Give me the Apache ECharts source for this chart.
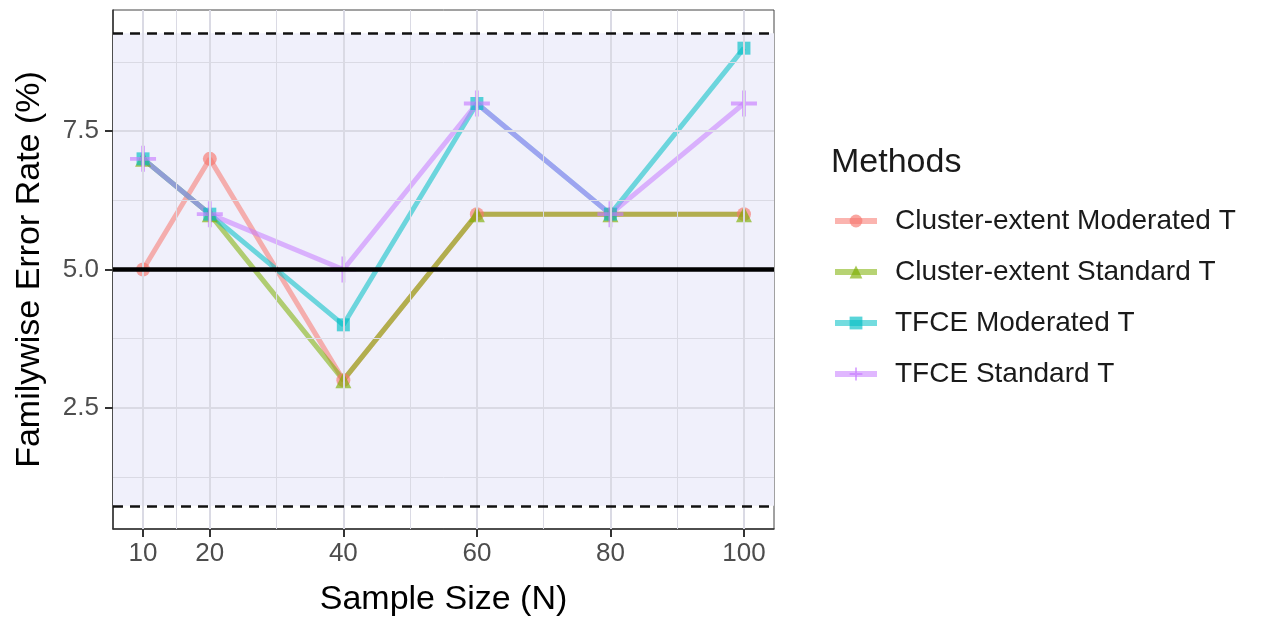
<!DOCTYPE html>
<html><head><meta charset="utf-8">
<script src="https://cdn.jsdelivr.net/npm/echarts@6/dist/echarts.min.js"></script>
<style>html,body{margin:0;padding:0;background:#fff}#c{width:1261px;height:620px}</style>
</head><body><div id="c"></div>
<script>
const sampleSizes = [10, 20, 40, 60, 80, 100];
const methods = ['Cluster-extent Moderated T', 'Cluster-extent Standard T', 'TFCE Moderated T', 'TFCE Standard T'];
const clusterModerated = [5, 7, 3, 6, 6, 6];
const clusterStandard = [7, 6, 3, 6, 6, 6];
const tfceModerated = [7, 6, 4, 8, 6, 9];
const tfceStandard = [7, 6, 5, 8, 6, 8];
const xTicks = [10, 20, 40, 60, 80, 100];
const xMinor = [15, 30, 50, 70, 90];
const yTicks = [2.5, 5.0, 7.5];
const yMinor = [1.25, 3.75, 6.25, 8.75];
const nominalRate = 5;
const ciLower = 0.73;
const ciUpper = 9.27;

const colors = ['#F8766D', '#7CAE00', '#00BFC4', '#C77CFF'];
const plusPath = 'path://M-1.5,-10L1.5,-10L1.5,-1.5L10,-1.5L10,1.5L1.5,1.5L1.5,10L-1.5,10L-1.5,1.5L-10,1.5L-10,-1.5L-1.5,-1.5Z';
const symbols = ['circle', 'triangle', 'rect', plusPath];
const symbolSizes = [14, 16, 13, 26];
const seriesValues = [clusterModerated, clusterStandard, tfceModerated, tfceStandard];

const font = 'Liberation Sans, Arial, sans-serif';
const chart = echarts.init(document.getElementById('c'), null, {renderer: 'canvas'});

const dataSeries = methods.map((m, i) => ({
  name: m, type: 'line', z: 3,
  data: sampleSizes.map((x, j) => [x, seriesValues[i][j]]),
  symbol: symbols[i], symbolSize: symbolSizes[i],
  lineStyle: {color: colors[i], width: 5, opacity: 0.55},
  itemStyle: {color: colors[i], opacity: 0.65},
  emphasis: {disabled: true}, animation: false
}));

const gridLineColor = '#dadae4';
const option = {
  animation: false,
  textStyle: {fontFamily: font},
  grid: {left: 113, right: 487, top: 10, bottom: 91, containLabel: false, outerBoundsMode: 'none',
    show: true, borderColor: '#444', borderWidth: 1, backgroundColor: '#fff'},
  title: {text: 'Methods', left: 826, top: 141, textStyle: {fontFamily: font, fontSize: 34, fontWeight: 'normal', color: '#1a1a1a'}},
  legend: {
    data: methods, orient: 'vertical', left: 827, top: 202,
    itemWidth: 42, itemHeight: 16, itemGap: 23,
    lineStyle: {width: 6},
    textStyle: {fontFamily: font, fontSize: 28, color: '#1a1a1a', padding: [0, 0, 0, 13]},
    selectedMode: false
  },
  xAxis: {
    type: 'value', min: 5.5, max: 104.5,
    name: 'Sample Size (N)', nameLocation: 'middle', nameGap: 54,
    nameTextStyle: {fontFamily: font, fontSize: 34, color: '#000'},
    axisLine: {show: true, lineStyle: {color: '#333', width: 1.5}},
    axisTick: {show: true, customValues: xTicks, length: 8, lineStyle: {color: '#333', width: 2}},
    axisLabel: {customValues: xTicks, fontSize: 26, color: '#4d4d4d', margin: 12, fontFamily: font},
    splitLine: {show: false}
  },
  yAxis: {
    type: 'value', min: 0.31, max: 9.69,
    name: 'Familywise Error Rate (%)', nameLocation: 'middle', nameGap: 66,
    nameTextStyle: {fontFamily: font, fontSize: 34, color: '#000'},
    axisLine: {show: true, lineStyle: {color: '#333', width: 1.5}},
    axisTick: {show: true, customValues: yTicks, length: 8, lineStyle: {color: '#333', width: 2}},
    axisLabel: {customValues: yTicks, fontSize: 26, color: '#4d4d4d', margin: 14, fontFamily: font,
      formatter: v => Number(v).toFixed(1)},
    splitLine: {show: false}
  },
  series: [
    {type: 'line', data: [], z: 0, silent: true,
      markArea: {silent: true, itemStyle: {color: '#f0f0fb'}, data: [[{yAxis: ciLower}, {yAxis: ciUpper}]]}},
    {type: 'line', data: [], z: 1, silent: true,
      markLine: {silent: true, symbol: 'none', label: {show: false}, animation: false,
        data: [
          ...xMinor.map(v => ({xAxis: v, lineStyle: {color: gridLineColor, width: 1, type: 'solid'}})),
          ...yMinor.map(v => ({yAxis: v, lineStyle: {color: gridLineColor, width: 1, type: 'solid'}})),
          ...xTicks.map(v => ({xAxis: v, lineStyle: {color: gridLineColor, width: 2, type: 'solid'}})),
          ...yTicks.map(v => ({yAxis: v, lineStyle: {color: gridLineColor, width: 2, type: 'solid'}}))
        ]}},
    ...dataSeries,
    {type: 'line', data: [], z: 5, silent: true,
      markLine: {silent: true, symbol: 'none', label: {show: false}, animation: false,
        data: [
          {yAxis: nominalRate, lineStyle: {color: '#000', width: 4.5, type: 'solid'}},
          {yAxis: ciLower, lineStyle: {color: '#111', width: 2.5, type: [10, 7]}},
          {yAxis: ciUpper, lineStyle: {color: '#111', width: 2.5, type: [10, 7]}}
        ]}}
  ]
};
chart.setOption(option);
</script></body></html>
